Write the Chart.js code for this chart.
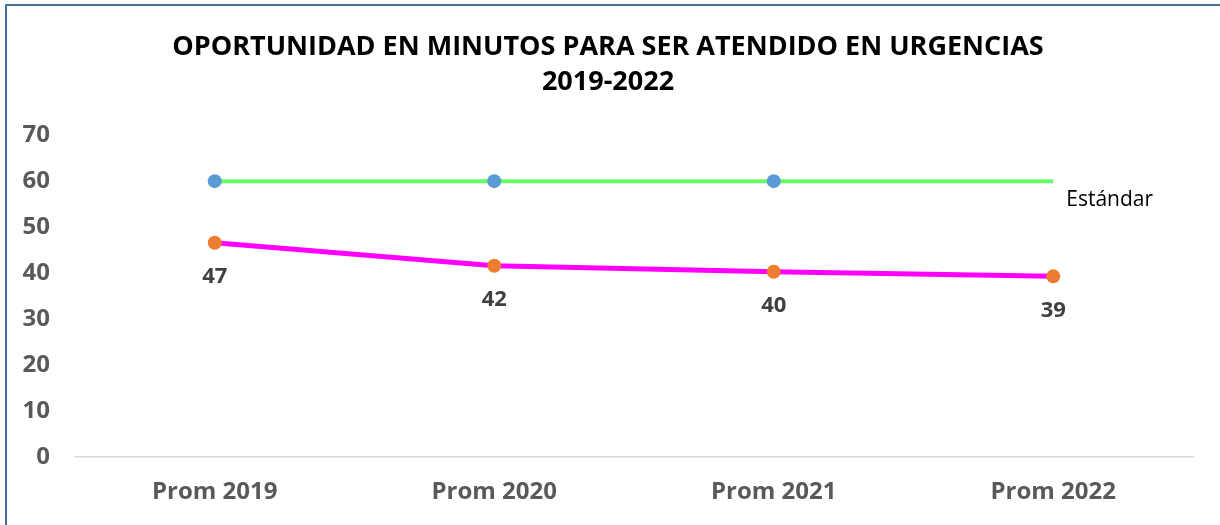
<!DOCTYPE html>
<html>
<head>
<meta charset="utf-8">
<script src="https://cdn.jsdelivr.net/npm/chart.js@4.4.1/dist/chart.umd.min.js"></script>
<style>
html, body { margin: 0; padding: 0; background: #fff; overflow: hidden; }
#marco { position: absolute; left: 5px; top: 4px; width: 1400px; height: 700px; border-top: 2px solid #41719C; border-left: 2px solid #41719C; }
#grafico { position: absolute; left: 0; top: 0; }
</style>
</head>
<body>
<div id="marco"></div>
<canvas id="grafico" width="1220" height="525"></canvas>
<script>
// datos
var categorias = ['Prom 2019', 'Prom 2020', 'Prom 2021', 'Prom 2022'];
var estandar = [60, 60, 60, 60];
var promedio = [46.6, 41.6, 40.3, 39.3];
var ticksY = [0, 10, 20, 30, 40, 50, 60, 70];
var tituloLineas = ['OPORTUNIDAD EN MINUTOS PARA SER ATENDIDO EN URGENCIAS', '2019-2022'];
var textoEstandar = 'Estándar';

var FUENTE = '"Open Sans", sans-serif';

// etiquetas de datos (no hay chartjs-plugin-datalabels)
var etiquetasPlugin = {
  id: 'etiquetas',
  afterDatasetsDraw: function(chart) {
    var ctx = chart.ctx;
    ctx.save();
    // valores debajo de la linea magenta
    var metaProm = chart.getDatasetMeta(1);
    ctx.font = 'bold 22px ' + FUENTE;
    ctx.fillStyle = '#404040';
    ctx.textAlign = 'center';
    ctx.textBaseline = 'middle';
    for (var i = 0; i < metaProm.data.length; i++) {
      var p = metaProm.data[i];
      ctx.fillText(String(Math.round(promedio[i])), p.x, p.y + 34);
    }
    // "Estándar" al final de la linea verde
    var metaEst = chart.getDatasetMeta(0);
    var ult = metaEst.data[metaEst.data.length - 1];
    ctx.font = '21px ' + FUENTE;
    ctx.fillStyle = '#000';
    ctx.textAlign = 'left';
    ctx.fillText(textoEstandar, ult.x + 13, ult.y + 19);
    ctx.restore();
  }
};

new Chart(document.getElementById('grafico'), {
  type: 'line',
  data: {
    labels: categorias,
    datasets: [{
      label: 'Estándar',
      data: estandar,
      borderColor: '#66FF66',
      borderWidth: 4,
      backgroundColor: '#5B9BD5',
      pointBackgroundColor: '#5B9BD5',
      pointBorderWidth: 0,
      pointRadius: [7, 7, 7, 0],
      tension: 0
    }, {
      label: 'Promedio',
      data: promedio,
      borderColor: '#FF00FF',
      borderWidth: 5,
      backgroundColor: '#ED7D31',
      pointBackgroundColor: '#ED7D31',
      pointBorderWidth: 0,
      pointRadius: 7,
      tension: 0
    }]
  },
  options: {
    responsive: false,
    animation: false,
    layout: { padding: { left: 23, right: 27, top: 0, bottom: 21 } },
    plugins: {
      legend: { display: false },
      tooltip: { enabled: false },
      title: {
        display: true,
        text: tituloLineas,
        color: '#000',
        font: { family: FUENTE, size: 27, weight: 'bold', lineHeight: 1.3 },
        padding: { top: 30, bottom: 35 }
      }
    },
    scales: {
      x: {
        offset: true,
        afterFit: function(s) { s.height = 47; },
        grid: { display: false, drawTicks: false },
        border: { display: true, color: '#D9D9D9', width: 1.5 },
        ticks: { color: '#595959', padding: 21, font: { family: FUENTE, size: 24, weight: 'bold' } }
      },
      y: {
        min: 0,
        max: 70,
        afterFit: function(s) { s.width = 52; },
        afterBuildTicks: function(s) { s.ticks = ticksY.map(function(v) { return { value: v }; }); },
        grid: { display: false, drawTicks: false },
        border: { display: false },
        ticks: { color: '#595959', padding: 25, font: { family: FUENTE, size: 24, weight: 'bold' } }
      }
    }
  },
  plugins: [etiquetasPlugin]
});
</script>
</body>
</html>
